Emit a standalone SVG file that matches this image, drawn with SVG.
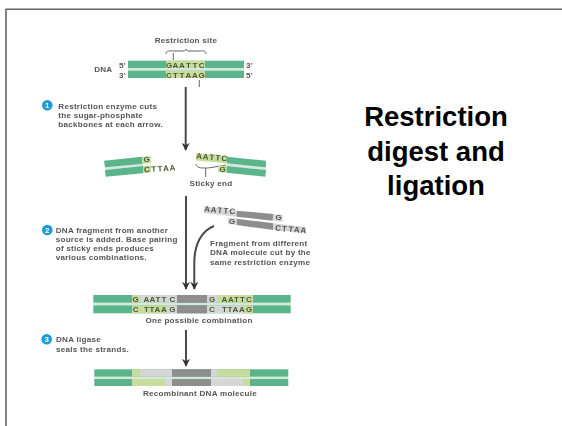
<svg xmlns="http://www.w3.org/2000/svg" width="562" height="426" viewBox="0 0 562 426">
<defs>
<style>
text{font-family:"Liberation Sans",Arial,sans-serif;fill:#3c3c3c}
.b{filter:url(#soft)}
.t{font-size:8.1px;font-weight:bold;fill:#555;letter-spacing:.25px}
.c{text-anchor:middle}
.l{font-size:8px;font-weight:bold;text-anchor:middle;fill:#4a5a30}
.k{font-size:8px;font-weight:bold;text-anchor:middle;fill:#555}
.g{fill:#5bb58a}.lg{fill:#c8dc9e}.y{fill:#d6d6d6}.d{fill:#8e8e8e}.p{fill:#d4e8dc}
.n{fill:#1e9bd7}
.i{font-size:8px;font-weight:bold;text-anchor:middle;fill:#fff}
.title{font-size:27.5px;font-weight:bold;text-anchor:middle;fill:#000}
.ar{fill:none;stroke:#4a4a4a;stroke-width:2;marker-end:url(#ah)}
.th{fill:none;stroke:#666;stroke-width:1}
</style>
<filter id="soft" x="-5%" y="-5%" width="110%" height="110%"><feGaussianBlur stdDeviation="0.45"/></filter>
<marker id="ah" viewBox="0 0 10 10" refX="9" refY="5" markerWidth="8" markerHeight="8" orient="auto" markerUnits="userSpaceOnUse"><path d="M0 0L10 5L0 10L3 5Z" fill="#333"/></marker>
</defs>
<rect width="562" height="426" fill="#fff"/>
<path d="M6 426V9.300H562" fill="none" stroke="#666" stroke-width="1.6"/>
<g id="title"><text class="title" x="436" y="126">Restriction</text><text class="title" x="436" y="160.500">digest and</text><text class="title" x="436" y="195">ligation</text></g>
<g class="b">
<g id="connectors">
<path class="ar" d="M185.700 87V150"/>
<path class="ar" d="M186 196V289"/>
<path class="ar" d="M214 226C201 231 194.500 245 194.300 262V289"/>
<path class="ar" d="M186 330V366"/>
<path class="th" d="M173.300 53V60M199.300 80V87"/>
<path class="th" d="M166 54C166 50 170 51 176 51H183C185 51 186 50 186 49C186 50 187 51 189 51H198C203 51 206 50 206 54"/>
<path class="th" d="M196 164C197 168 200 168 205.700 168C211 168 213 167 226 165M205.700 168V177"/>
</g>
<g id="dna">
<text class="t c" x="103.300" y="71.500">DNA</text>
<text class="t" x="119" y="67.500">5'</text><text class="t" x="119" y="77.500">3'</text><text class="t" x="246" y="67.500">3'</text><text class="t" x="246" y="77.500">5'</text>
<rect class="p" x="128" y="68" width="116" height="2.700"/>
<rect class="g" x="128" y="60.700" width="116" height="7.300"/><rect class="g" x="128" y="70.700" width="116" height="7.300"/>
<rect class="lg" x="166" y="60.700" width="39" height="7.300"/><rect class="lg" x="166" y="70.700" width="39" height="7.300"/>
<text class="l" x="169 175.500 182 188.500 195 201.700" y="67.500">GAATTC</text>
<text class="l" x="169 175.500 182 188.500 195 201.700" y="77.500">CTTAAG</text>
</g>
<g id="site-label"><text class="t c" x="186" y="42.500">Restriction site</text></g>
<g id="step-1"><circle class="n" cx="47.300" cy="105.300" r="5.300"/><text class="i" x="47.300" y="108.200">1</text><text x="58.300" y="108.500" class="t">Restriction enzyme cuts</text><text x="58.300" y="117.500" class="t">the sugar-phosphate</text><text x="58.300" y="126.500" class="t">backbones at each arrow.</text></g>
<g id="left-fragment">
<path class="p" d="M105 167L143 164V166L105 170Z"/>
<path class="g" d="M104 160.700L142 156.700V163.900L105 167.300Z"/><path class="lg" d="M142 156.700L151 155.900V163.200L142 163.900Z"/>
<path class="g" d="M105 170L143 166V173.300L105.700 176.700Z"/><path class="lg" d="M143 166L151 165.300V172.600L143 173.300Z"/>
<text class="l" x="146.700" y="161.500">G</text>
<text class="l" transform="rotate(-4 160 169)" x="147 153.800 160 166 172.500" y="171.500">CTTAA</text>
</g>
<g id="right-fragment">
<path class="p" d="M226.700 163L266 167V170L226.700 166Z"/>
<path class="lg" d="M196 153L226.700 156.700V163.300L196 160.500Z"/><path class="g" d="M226.700 156.700L266 160.700L265.800 167.300L226.700 163.300Z"/>
<path class="lg" d="M218 165L226.700 166V172.700L218 172Z"/><path class="g" d="M226.700 166L266 170L265.300 176.700L226.700 172.700Z"/>
<text class="l" transform="rotate(5 212 157)" x="199 205.500 212 218 224.500" y="160">AATTC</text>
<text class="l" x="222.700" y="172">G</text>
</g>
<g id="sticky-label"><text class="t c" x="211" y="186">Sticky end</text></g>
<g id="step-2"><circle class="n" cx="47.300" cy="230" r="5.300"/><text class="i" x="47.300" y="232.900">2</text><text x="55.700" y="232.500" class="t">DNA fragment from another</text><text x="55.700" y="241.800" class="t">source is added. Base pairing</text><text x="55.700" y="250.800" class="t">of sticky ends produces</text><text x="55.700" y="260.200" class="t">various combinations.</text></g>
<g id="gray-fragment">
<path class="y" d="M204 206L236.700 210.700V216.700L204 213Z"/><path class="d" d="M236.700 210.700L273.300 214L272.700 220.700L236.700 216.700Z"/><path class="y" d="M273.300 214L283 215L282.500 221.700L272.700 220.700Z"/>
<path class="y" d="M228 218L236.700 218.700V225L228 224Z"/><path class="d" d="M236.700 218.700L273.300 223.300V230L236.700 225Z"/><path class="y" d="M273.300 223.300L306 227V233L273.300 230Z"/>
<text class="k" transform="rotate(5 220 210)" x="207 213.500 220 226 232.500" y="213">AATTC</text>
<text class="k" x="278.700" y="220">G</text><text class="k" x="232" y="224">G</text>
<text class="k" transform="rotate(5 291 229)" x="278 284.500 291 297 303.500" y="232">CTTAA</text>
</g>
<g id="fragment-label"><text x="210" y="245.800" class="t">Fragment from different</text><text x="210" y="255.200" class="t">DNA molecule cut by the</text><text x="210" y="265.200" class="t">same restriction enzyme</text></g>
<g id="combination">
<rect class="p" x="93.300" y="302.700" width="197.400" height="2.600"/>
<rect class="g" x="93.300" y="295" width="197.400" height="7.700"/><rect class="g" x="93.300" y="305.300" width="197.400" height="8"/>
<rect class="lg" x="132" y="295" width="8" height="7.700"/><rect class="y" x="140" y="295" width="37" height="7.700"/><rect class="d" x="177" y="295" width="30" height="7.700"/><rect class="y" x="207" y="295" width="10" height="7.700"/><rect class="lg" x="217" y="295" width="36" height="7.700"/>
<rect class="lg" x="132" y="305.300" width="35" height="8"/><rect class="y" x="167" y="305.300" width="10" height="8"/><rect class="d" x="177" y="305.300" width="30" height="8"/><rect class="y" x="207" y="305.300" width="36" height="8"/><rect class="lg" x="243" y="305.300" width="10" height="8"/>
<text class="l" x="135.700 146.500 152.500 158 164 172.300 212 224.500 231 236.500 242.500 249" y="302">GAATTCGAATTC</text>
<text class="l" x="135.700 146.500 152 157.500 164 172.300 212 224.500 230 235.500 242 249" y="312">CTTAAGCTTAAG</text>
<text class="t c" x="199" y="323">One possible combination</text>
</g>
<g id="step-3"><circle class="n" cx="46.700" cy="339.300" r="5.300"/><text class="i" x="46.700" y="342.200">3</text><text x="56" y="342.200" class="t">DNA ligase</text><text x="56" y="351.800" class="t">seals the strands.</text></g>
<g id="recombinant">
<rect class="p" x="94.300" y="376.700" width="194" height="2.300"/>
<rect class="g" x="94.300" y="369.300" width="194" height="7.400"/><rect class="g" x="94.300" y="379" width="194" height="7"/>
<rect class="lg" x="132" y="369.300" width="8" height="7.400"/><rect class="y" x="140" y="369.300" width="32" height="7.400"/><rect class="d" x="172" y="369.300" width="39" height="7.400"/><rect class="y" x="211" y="369.300" width="6" height="7.400"/><rect class="lg" x="217" y="369.300" width="33" height="7.400"/>
<rect class="lg" x="132" y="379" width="33" height="7"/><rect class="y" x="165" y="379" width="7" height="7"/><rect class="d" x="172" y="379" width="39" height="7"/><rect class="y" x="211" y="379" width="32" height="7"/><rect class="lg" x="243" y="379" width="7" height="7"/>
<text class="t c" x="200" y="396">Recombinant DNA molecule</text>
</g>
</g>
</svg>
